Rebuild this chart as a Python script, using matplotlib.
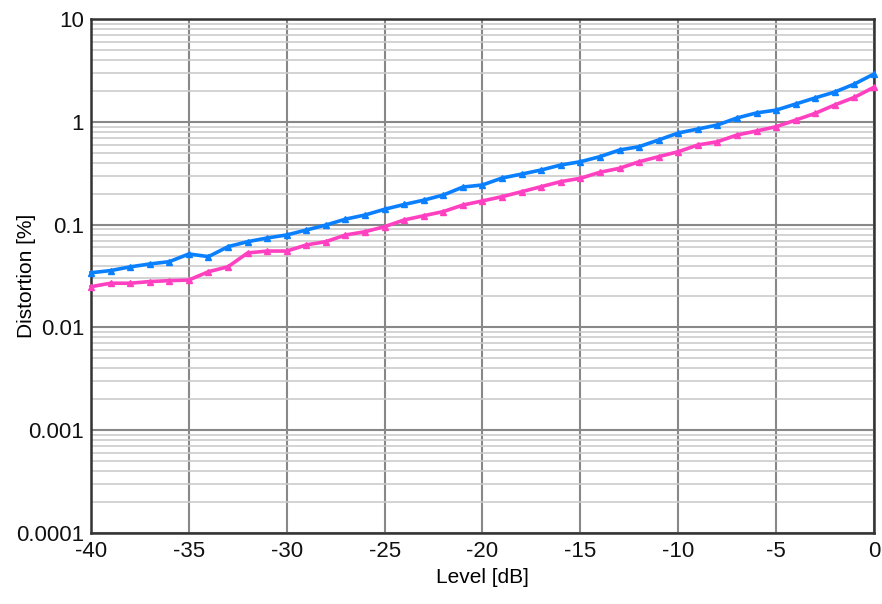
import matplotlib
matplotlib.use("Agg")
import matplotlib.pyplot as plt
from matplotlib.ticker import LogLocator, FixedLocator, NullFormatter

level_db = list(range(-40, 1))
blue_pct = [0.034, 0.0357, 0.0388, 0.0414, 0.0436, 0.0518, 0.0488, 0.061, 0.0682, 0.0741,
            0.0793, 0.0886, 0.099, 0.113, 0.124, 0.141, 0.157, 0.173, 0.194, 0.232,
            0.243, 0.284, 0.310, 0.340, 0.380, 0.409, 0.458, 0.532, 0.573, 0.666,
            0.778, 0.851, 0.931, 1.09, 1.22, 1.30, 1.49, 1.71, 1.95, 2.33, 2.92]
magenta_pct = [0.0249, 0.0269, 0.0269, 0.0279, 0.0285, 0.0289, 0.0348, 0.0389, 0.053, 0.0553,
               0.0553, 0.0634, 0.0683, 0.0792, 0.0853, 0.0955, 0.111, 0.122, 0.134, 0.155,
               0.170, 0.187, 0.209, 0.234, 0.262, 0.282, 0.323, 0.353, 0.409, 0.458,
               0.512, 0.595, 0.640, 0.744, 0.814, 0.896, 1.04, 1.21, 1.46, 1.73, 2.17]
x_ticks = [-40, -35, -30, -25, -20, -15, -10, -5, 0]
y_ticks = [0.0001, 0.001, 0.01, 0.1, 1, 10]
y_tick_labels = ["0.0001", "0.001", "0.01", "0.1", "1", "10"]

plt.rcParams['font.family'] = ['Liberation Sans', 'DejaVu Sans']

fig = plt.figure(figsize=(8.82, 6.04), dpi=100)
ax = fig.add_axes([91/882, 1-533/604, (874-91)/882, (533-19)/604])

ax.set_yscale('log')
ax.set_xlim(-40, 0)
ax.set_ylim(0.0001, 10)
ax.set_xticks(x_ticks)
ax.set_xticklabels([str(t) for t in x_ticks])
ax.yaxis.set_major_locator(FixedLocator(y_ticks))
ax.set_yticklabels(y_tick_labels)
ax.yaxis.set_minor_locator(LogLocator(base=10, subs=range(2, 10), numticks=20))
ax.yaxis.set_minor_formatter(NullFormatter())

ax.grid(which='minor', axis='y', color='#cccccc', lw=1.2)
ax.grid(which='major', axis='y', color='#888888', lw=1.5)
ax.grid(which='major', axis='x', color='#888888', lw=1.5)
ax.set_axisbelow(True)

ax.tick_params(which='both', length=0, labelsize=16, colors='#111111')
ax.tick_params(axis='y', pad=5)
ax.tick_params(axis='x', pad=6)
for s in ax.spines.values():
    s.set_color('#333333')
    s.set_linewidth(1.8)

ax.plot(level_db, blue_pct, color='#0a80ff', lw=2.6, marker='^', ms=5, clip_on=False, zorder=3)
ax.plot(level_db, magenta_pct, color='#ff40c0', lw=2.6, marker='^', ms=5, clip_on=False, zorder=3)

ax.set_xlabel('Level [dB]', fontsize=15)
ax.set_ylabel('Distortion [%]', fontsize=15)
ax.xaxis.set_label_coords(0.5, -(568 - 533) / 514)
ax.yaxis.set_label_coords((36 - 91) / 783, 0.5)

fig.savefig('out.png', dpi=100)
